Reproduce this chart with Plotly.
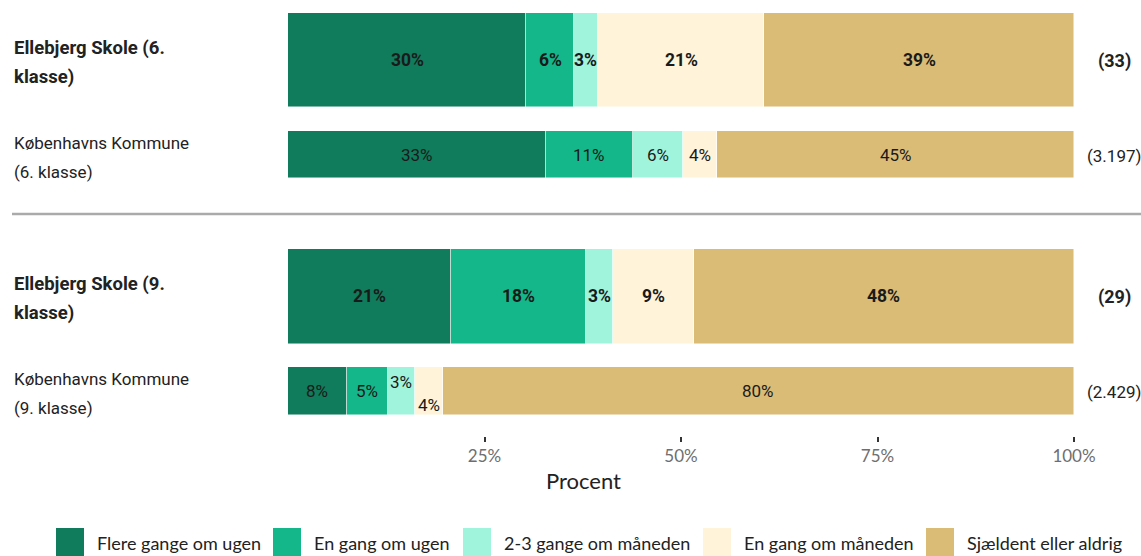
import plotly.graph_objects as go

# ---------------- data ----------------
row_labels = ["Ellebjerg Skole (6.\nklasse)", "Københavns Kommune\n(6. klasse)",
              "Ellebjerg Skole (9.\nklasse)", "Københavns Kommune\n(9. klasse)"]
row_bold = [True, False, True, False]
counts = ["(33)", "(3.197)", "(29)", "(2.429)"]

categories = ["Flere gange om ugen", "En gang om ugen", "2-3 gange om måneden",
              "En gang om måneden", "Sjældent eller aldrig"]

flere = [30.3, 32.8, 20.7, 7.5]
en_gang_uge = [6.1, 11.1, 17.2, 5.2]
to_tre_md = [3.0, 6.4, 3.4, 3.4]
en_gang_md = [21.2, 4.3, 10.3, 3.6]
sjaeldent = [39.4, 45.4, 48.4, 80.3]

flere_lbl = ["30%", "33%", "21%", "8%"]
en_gang_uge_lbl = ["6%", "11%", "18%", "5%"]
to_tre_md_lbl = ["3%", "6%", "3%", "3%"]
en_gang_md_lbl = ["21%", "4%", "9%", "4%"]
sjaeldent_lbl = ["39%", "45%", "48%", "80%"]

tick_vals = [25, 50, 75, 100]
tick_text = ["25%", "50%", "75%", "100%"]

# ---------------- style ----------------
colors = ["#107c5c", "#14b789", "#a1f4dc", "#fff4da", "#dabc76"]
row_pos = [0, 1, 2.5, 3.5]
row_width = [1.0, 0.5, 1.0, 0.5]
# vertical nudges (px) for crowded labels: (series index, row index) -> shift
label_shift = {(2, 3): 9, (3, 3): -14}

LBL_FONT = "Roboto, Arial, sans-serif"
AX_FONT = "Lato, sans-serif"

series = [flere, en_gang_uge, to_tre_md, en_gang_md, sjaeldent]
series_lbl = [flere_lbl, en_gang_uge_lbl, to_tre_md_lbl, en_gang_md_lbl, sjaeldent_lbl]

fig = go.Figure()
for name, vals, col in zip(categories, series, colors):
    fig.add_trace(go.Bar(
        name=name, x=vals, y=row_pos, width=row_width, orientation="h",
        marker=dict(color=col, line=dict(color="rgba(255,255,255,0.6)", width=0.8)),
        showlegend=False, hoverinfo="x+name",
    ))

annotations = []
# segment labels
for r in range(len(row_pos)):
    cum = 0.0
    for s, (vals, lbls) in enumerate(zip(series, series_lbl)):
        mid = cum + vals[r] / 2
        cum += vals[r]
        txt = lbls[r]
        size = 17
        if row_bold[r]:
            txt = f"<b>{txt}</b>"
            size = 17.5
        annotations.append(dict(
            x=mid, y=row_pos[r], xref="x", yref="y", text=txt, showarrow=False,
            xanchor="center", yanchor="middle", yshift=label_shift.get((s, r), 0),
            font=dict(family=LBL_FONT, size=size, color="#1a1a1a")))

# left labels (two lines each) and right counts
PX0, PX1 = 288, 1074
def px2paper(px):
    return (px - PX0) / (PX1 - PX0)

for r, lab in enumerate(row_labels):
    lines = lab.split("\n")
    for i, ln in enumerate(lines):
        t = f"<b>{ln}</b>" if row_bold[r] else ln
        annotations.append(dict(
            x=px2paper(12), y=row_pos[r], xref="paper", yref="y", text=t, showarrow=False,
            xanchor="left", yanchor="middle", yshift=(12 if i == 0 else -17),
            font=dict(family=LBL_FONT, size=(18.5 if row_bold[r] else 17), color="#222222")))
    c = f"<b>{counts[r]}</b>" if row_bold[r] else counts[r]
    annotations.append(dict(
        x=px2paper(1114), y=row_pos[r], xref="paper", yref="y", text=c, showarrow=False,
        xanchor="center", yanchor="middle", yshift=-1,
        font=dict(family=LBL_FONT, size=(18 if row_bold[r] else 17), color="#222222")))

# axis title
annotations.append(dict(
    x=px2paper(583.5), y=0, xref="paper", yref="paper", text="Procent", showarrow=False,
    xanchor="center", yanchor="middle", yshift=-44,
    font=dict(family=AX_FONT, size=22, color="#222222")))

# custom legend
PLOT_TOP, PLOT_BOT = 5, 436
def py2paper(py):
    return (PLOT_BOT - py) / (PLOT_BOT - PLOT_TOP)

leg_sq_x = [56, 273, 463, 703, 926]
shapes = []
for name, col, sx in zip(categories, colors, leg_sq_x):
    shapes.append(dict(type="rect", xref="paper", yref="paper",
                       x0=px2paper(sx), x1=px2paper(sx + 28),
                       y0=py2paper(528), y1=py2paper(560),
                       fillcolor=col, line=dict(width=0)))
    annotations.append(dict(
        x=px2paper(sx + 39), y=py2paper(543), xref="paper", yref="paper", text=name,
        showarrow=False, xanchor="left", yanchor="middle",
        font=dict(family=AX_FONT, size=18, color="#222222")))

# separator line
shapes.append(dict(type="line", xref="paper", yref="y",
                   x0=px2paper(12), x1=px2paper(1141), y0=1.628, y1=1.628,
                   line=dict(color="#aaaaaa", width=2.5)))

fig.update_layout(
    width=1141, height=556,
    margin=dict(l=PX0, r=1141 - PX1, t=PLOT_TOP, b=556 - PLOT_BOT),
    barmode="stack", bargap=0,
    plot_bgcolor="white", paper_bgcolor="white",
    xaxis=dict(range=[0, 100], tickvals=tick_vals, ticktext=tick_text,
               ticks="outside", ticklen=5, tickwidth=2, tickcolor="#333333",
               showgrid=False, zeroline=False, showline=False,
               tickfont=dict(family=AX_FONT, size=17, color="#6e6e6e")),
    yaxis=dict(range=[3.975, -0.581], showticklabels=False, showgrid=False,
               zeroline=False, showline=False, ticks=""),
    annotations=annotations, shapes=shapes,
    showlegend=False,
)

fig.write_html("out.html", config={"displayModeBar": False},
               post_script="document.body.style.margin='0';document.body.style.overflow='hidden';")
